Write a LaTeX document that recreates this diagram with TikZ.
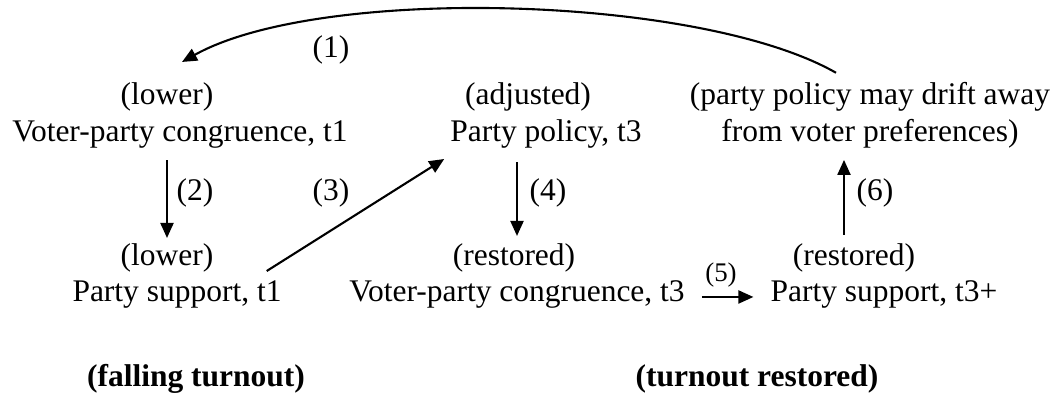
\documentclass[tikz,border=0pt]{standalone}
\usepackage{fontspec}
\setmainfont{Liberation Serif}
\usetikzlibrary{arrows.meta,positioning,calc}
\tikzset{
  txt/.style={inner sep=0pt,anchor=base,font=\fontsize{31.6}{37}\selectfont},
  twoline/.style={txt,align=center},
  boldtxt/.style={txt,font=\fontsize{31.6}{37}\selectfont\bfseries},
  smlbl/.style={inner sep=0pt,anchor=base,font=\fontsize{27}{30}\selectfont},
  arr/.style={-{Triangle[length=15bp,width=13bp]},line width=2.1bp}
}
\begin{document}
\begin{tikzpicture}[x=1bp,y=-1bp]
  \useasboundingbox (0,0) rectangle (1060,393);
  % top row
  \node[txt] (lowA) at (167,104) {(lower)};
  \node[txt] (congA) at (180,141) {Voter-party congruence, t1};
  \node[txt] (adjB) at (528,104) {(adjusted)};
  \node[txt] (polB) at (546,141) {Party policy, t3};
  \node[twoline] (driftC) at (870,141) {(party policy may drift away\\from voter preferences)};
  % bottom row
  \node[txt] (lowD) at (167,265) {(lower)};
  \node[txt] (supD) at (177,301) {Party support, t1};
  \node[txt] (resE) at (514,265) {(restored)};
  \node[txt] (congE) at (517,301) {Voter-party congruence, t3};
  \node[txt] (resF) at (854,265) {(restored)};
  \node[txt] (supF) at (884,301) {Party support, t3+};
  % turnout phases
  \node[boldtxt] (fall) at (196,386) {(falling turnout)};
  \node[boldtxt] (rest) at (757,386) {(turnout restored)};

  \draw[arr] ($(driftC.north)+(-34,-9)$) .. controls (700,-5) and (320,-15) .. ($(lowA.north)+(15,-20)$);
  \draw[arr,shorten <=12bp,shorten >=5bp] (congA.south -| lowD) -- (lowD.north);
  \draw[arr] ($(supD.north east)+(-15,-9)$) -- ($(polB.south west)+(-6,11)$);
  \draw[arr,shorten <=14bp,shorten >=7bp] ($(polB.south -| resE)+(3,0)$) -- ($(resE.north)+(3,0)$);
  \draw[arr,shorten <=17bp,shorten >=17bp] ($(congE.east)+(0,3)$) -- ($(congE.east -| supF.west)+(0,3)$);
  \draw[arr,shorten <=8bp,shorten >=12bp] ($(resF.north)+(-10,0)$) -- ($(resF.north |- driftC.south)+(-10,0)$);

  \node[txt] (n1) at (331,57) {(1)};
  \node[txt] (n2) at (195,200) {(2)};
  \node[txt] (n3) at (331,200) {(3)};
  \node[txt] (n4) at (548,200) {(4)};
  \node[smlbl] (n5) at (721,281) {(5)};
  \node[txt] (n6) at (875,200) {(6)};
\end{tikzpicture}
\end{document}
